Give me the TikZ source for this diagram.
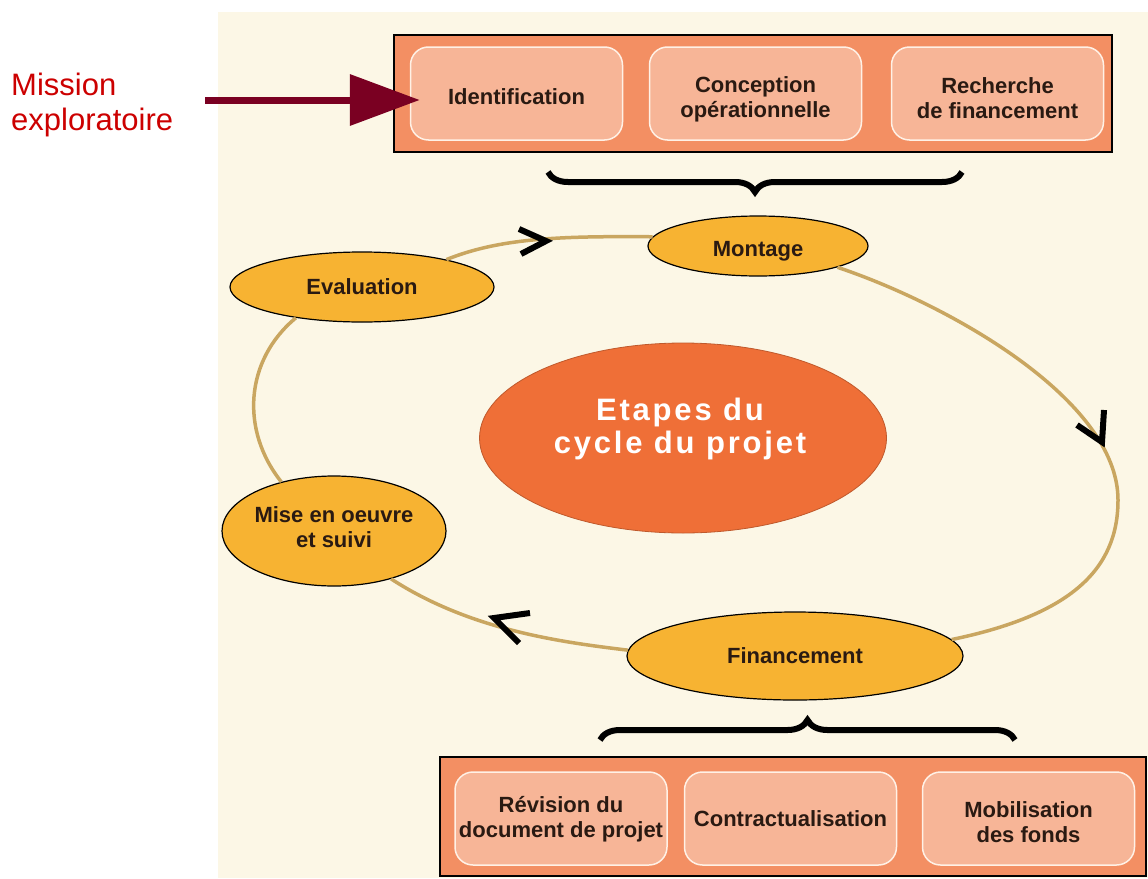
\documentclass[tikz,border=0pt]{standalone}
\usepackage{fontspec}
\setmainfont{Liberation Sans}
\newfontfamily\spacedfont[LetterSpace=9]{Liberation Sans}
\usetikzlibrary{shapes.geometric,arrows.meta,decorations.pathreplacing,calc}
\definecolor{cream}{HTML}{FCF7E6}
\definecolor{outerfill}{HTML}{F38F63}
\definecolor{innerfill}{HTML}{F7B597}
\definecolor{innerline}{HTML}{FFF1E6}
\definecolor{ellfill}{HTML}{F7B332}
\definecolor{bigfill}{HTML}{EF6F37}
\definecolor{cycleline}{HTML}{C9A660}
\definecolor{missred}{HTML}{CC0000}
\definecolor{maroon}{HTML}{7A0022}
\definecolor{txt}{HTML}{2A1A12}
\tikzset{
  outerbox/.style={draw=black, line width=1.5pt, fill=outerfill, minimum height=117pt, inner sep=0pt},
  innerbox/.style={draw=innerline, line width=1.5pt, fill=innerfill, rounded corners=18pt, minimum width=212pt, minimum height=93pt, inner sep=0pt, align=center, text=txt, font=\bfseries\fontsize{22}{25}\selectfont},
  boxtext/.style={inner sep=0pt, align=center, text=txt, font=\bfseries\fontsize{22}{25}\selectfont},
  stage/.style={ellipse, draw=black, line width=1.2pt, fill=ellfill, inner sep=0pt, align=center, text=txt, font=\bfseries\fontsize{22}{25}\selectfont},
  lowertext/.style={execute at begin node={\rule{0pt}{#1}}},
  cyc/.style={draw=cycleline, line width=3.5pt},
  chev/.style={draw=black, line width=6pt, line join=miter},
  bracestyle/.style={draw=black, line width=6pt, decorate, decoration={brace, amplitude=20pt}},
}
\begin{document}
\begin{tikzpicture}[x=1pt,y=-1pt]
\useasboundingbox (0,0) rectangle (1148,878);
\fill[cream] (218,12) rectangle (1148,878);

% top box
\node[outerbox, minimum width=718pt] (topbox) at (753,93.5) {};
\node[innerbox, lowertext=22pt] (idf) at (516.5,93.5) {Identification};
\node[innerbox] (conc) at (755.5,93.5) {};
\node[boxtext] (conctext) at ($(conc)+(0,6)$) {Conception\\op\'erationnelle};
\node[innerbox] (rech) at (997.5,93.5) {};
\node[boxtext] (rechtext) at ($(rech)+(0,5)$) {Recherche\\de financement};

% bottom box
\node[outerbox, minimum width=706pt, minimum height=119pt] (botbox) at (793,816.5) {};
\node[innerbox] (rev) at (561,818.5) {};
\node[boxtext] (revtext) at ($(rev)+(0,1)$) {R\'evision du\\document de projet};
\node[innerbox] (contr) at (790.5,818.5) {Contractualisation};
\node[innerbox] (mob) at (1028.5,818.5) {};
\node[boxtext] (mobtext) at ($(mob)+(0,4)$) {Mobilisation\\des fonds};

% cycle stages
\coordinate (rt) at (1118,500);
\node[stage, lowertext=25pt, minimum width=220pt, minimum height=60pt] (mont) at (758,246) {Montage};
\node[stage, minimum width=264pt, minimum height=70pt] (eval) at (362,287) {Evaluation};
\node[stage, minimum width=224pt, minimum height=110pt] (mise) at (334,531) {};
\node[boxtext] (misetext) at ($(mise)+(0,-4)$) {Mise en oeuvre\\et suivi};
\node[stage, minimum width=336pt, minimum height=88pt] (fin) at (795,656) {Financement};
\node[ellipse, fill=bigfill, draw=bigfill!80!black, line width=0.8pt, minimum width=407pt, minimum height=190pt, inner sep=0pt] (center) at (683,438) {};
\node[align=center, text=white, font=\spacedfont\bfseries\fontsize{31}{33}\selectfont, inner sep=0pt] (centerlabel) at (680,429) {Etapes du\\cycle du projet};

% cycle connectors
\draw[cyc] (eval.18) .. controls (500,238) and (560,236) .. (mont.175);
\draw[cyc] (mont.-15) .. controls (950,305) and (1118,400) .. (rt);
\draw[cyc] (rt) .. controls (1118,570) and (1070,615) .. (fin.6);
\draw[cyc] (fin.178) .. controls (560,642) and (470,630) .. (mise.-40);
\draw[cyc] (mise.137) .. controls (240,430) and (245,360) .. (eval.205);

% chevrons
\draw[chev] (519,229) -- (546,241) -- (521,254);
\draw[chev] (1077,425) -- (1102,442) -- (1104,410);
\draw[chev] (530,613) -- (494,618) -- (519,643);

% braces
\draw[bracestyle] (962,172) -- (548,172);
\draw[bracestyle] (600,740) -- (1015,740);

% mission exploratoire
\node[anchor=west, align=left, text=missred, font=\fontsize{31}{35}\selectfont, inner sep=0pt] (mission) at (11,105) {Mission\\exploratoire};
\coordinate (arrstart) at (205,100);
\draw[maroon, line width=7pt, -{Triangle[length=70pt,width=50pt]}] (arrstart) -- ([xshift=10pt]idf.west |- arrstart);
\end{tikzpicture}
\end{document}
